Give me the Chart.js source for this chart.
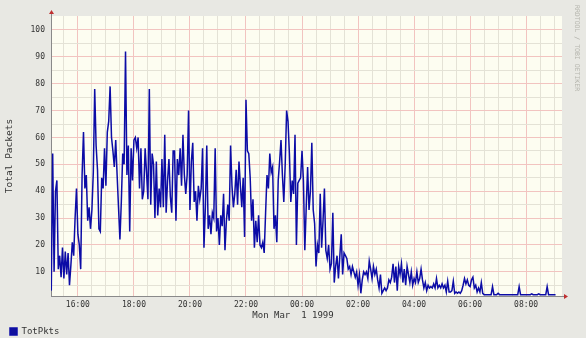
<!DOCTYPE html>
<html>
<head>
<meta charset="utf-8">
<script src="https://cdn.jsdelivr.net/npm/chart.js@4"></script>
<style>
html, body { margin: 0; padding: 0; background: #e8e8e3; }
#wrap { width: 586px; height: 338px; }
</style>
</head>
<body>
<div id="wrap"><canvas id="grafico" width="586" height="338"></canvas></div>
<script>
// Muestras de TotPkts, una cada 3 minutos desde las 15:03
const startMin = 3;
const stepMin = 3;
const totPkts = [
  3, 54, 10, 40, 44, 11, 16, 8, 19, 7.5,
  17.5, 9, 17, 5, 12.5, 21, 16, 30, 41, 24,
  20, 11, 46, 62, 41, 46, 29, 34, 26, 33,
  47, 78, 57, 48, 26, 25, 45, 41, 56, 42,
  62, 66, 79, 60, 55, 49, 59, 46, 34, 22,
  36, 54, 50, 92, 46, 57, 25, 56, 44, 59,
  60, 56, 60, 41, 56, 37, 40, 56, 47, 37,
  78, 35, 54, 50, 30, 51, 31, 41, 34, 52,
  34, 61, 32, 44, 52, 38, 32, 55, 55, 29,
  52, 46, 56, 42, 61, 46, 39, 46, 70, 33,
  51, 58, 36, 40, 29, 42, 37, 41, 56, 19,
  34, 57, 26, 31, 24, 32, 30, 56, 25,
  30, 20, 31, 27, 39, 18, 29, 35, 29, 57, 42,
  34, 39, 48, 35, 51, 42, 34, 45, 23, 74,
  55, 54, 45, 29, 37, 19, 29, 21, 31, 20,
  19, 21, 17, 32, 46, 41, 54, 47, 49, 26,
  31, 21, 44, 51, 59, 46, 36, 50, 70, 66,
  54, 36, 44, 39, 61, 20, 43, 44, 45,
  55, 44, 18, 34, 49, 33, 40, 58, 33, 28, 12,
  20, 17, 39, 19, 29, 41, 18, 15, 20, 11,
  13, 32, 6, 12, 16, 7.5, 16, 24, 9, 17,
  16, 15, 11, 12, 9, 12, 10, 8, 10, 5,
  9, 2, 7, 10, 9, 10, 7.5, 14, 11, 7.5,
  12, 9, 11, 7, 4, 9, 2,
  3, 4, 3, 4, 7, 6, 8, 13, 6, 12,
  3, 12, 9, 13, 6, 11, 5, 12, 9, 6,
  10, 5, 7.5, 6, 10, 6, 7.5, 11, 7, 4,
  6, 3, 5, 4, 4.5, 4, 5.5, 4, 7.5, 4,
  5, 4, 5.5, 4, 5, 2.5, 6.5, 2.5, 2.5, 3,
  6.5, 2, 2.5, 2, 2.5, 2, 3, 5, 7.5, 5.5,
  7, 5, 4.5, 7, 8, 4, 5, 2.5, 4, 2.5, 6, 2,
  1.5, 1.5, 1.5, 1.5, 1.5, 1.5, 4.5, 1.5, 1.5, 1.5,
  2, 1.5, 1.5, 1.5, 1.5, 1.5, 1.5, 1.5, 1.5, 1.5,
  1.5, 1.5, 1.5, 1.5, 1.5, 4.5, 1.5, 1.5, 1.5, 1.5,
  1.5, 1.5, 1.5, 1.5, 1.8, 1.5, 1.5, 1.5, 1.5, 1.8,
  1.5, 1.5, 1.5, 1.5, 1.5, 4.5, 1.5, 1.5, 1.5, 1.5,
  1.5, 1.5
];

// Etiquetas del eje x (cada 2 horas, desde las 16:00)
const horas = ["16:00", "18:00", "20:00", "22:00", "00:00", "02:00", "04:00", "06:00", "08:00"];
// Etiquetas del eje y
const valoresY = [10, 20, 30, 40, 50, 60, 70, 80, 90, 100];

const xMin = 2.4, xMax = 1096.8;   // minutos desde las 15:00
const yMin = 1, yMax = 105.2;

const fondoRrd = {
  id: "fondoRrd",
  beforeDraw(chart) {
    const { ctx, chartArea: a } = chart;
    ctx.save();
    ctx.fillStyle = "#e8e8e3";
    ctx.fillRect(0, 0, chart.width, chart.height);
    ctx.fillStyle = "#fdfdf1";
    ctx.fillRect(a.left, a.top, a.right - a.left, a.bottom - a.top);
    ctx.restore();
  },
  afterDraw(chart) {
    const { ctx, chartArea: a } = chart;
    ctx.save();
    // prolongacion de los ejes y flechas rojas
    ctx.strokeStyle = "#8a8a8a";
    ctx.lineWidth = 1;
    ctx.beginPath();
    ctx.moveTo(a.left + 0.5, a.top);
    ctx.lineTo(a.left + 0.5, a.top - 3);
    ctx.moveTo(a.right, a.bottom + 0.5);
    ctx.lineTo(a.right + 3, a.bottom + 0.5);
    ctx.stroke();
    ctx.fillStyle = "#c03030";
    ctx.beginPath();
    ctx.moveTo(a.left + 0.5, a.top - 6);
    ctx.lineTo(a.left - 2, a.top - 2);
    ctx.lineTo(a.left + 3, a.top - 2);
    ctx.closePath();
    ctx.fill();
    ctx.beginPath();
    ctx.moveTo(a.right + 6, a.bottom + 0.5);
    ctx.lineTo(a.right + 2, a.bottom - 2);
    ctx.lineTo(a.right + 2, a.bottom + 3);
    ctx.closePath();
    ctx.fill();
    // titulo del eje x, centrado en la imagen como en rrdtool
    ctx.fillStyle = "#333";
    ctx.font = "9px 'DejaVu Sans Mono'";
    ctx.textAlign = "center";
    ctx.textBaseline = "middle";
    ctx.fillText("Mon Mar  1 1999", chart.width / 2, 316);
    // marca de agua vertical
    ctx.translate(577, 5);
    ctx.rotate(Math.PI / 2);
    ctx.fillStyle = "#b5b5ad";
    ctx.font = "6.5px 'DejaVu Sans Mono'";
    ctx.textAlign = "left";
    ctx.fillText("RRDTOOL / TOBI OETIKER", 0, 0);
    ctx.restore();
  },
};

const xTicks = [];
for (let m = 30; m <= 1080; m += 30) xTicks.push({ value: m });
const yTicks = [];
for (let v = 5; v <= 100; v += 5) yTicks.push({ value: v });

const ctx = document.getElementById("grafico").getContext("2d");
new Chart(ctx, {
  type: "line",
  data: {
    datasets: [
      {
        label: "TotPkts",
        data: totPkts.map((v, i) => ({ x: startMin + i * stepMin, y: v })),
        borderColor: "#0c0ca6",
        backgroundColor: "#10109c",
        borderWidth: 1.5,
        pointRadius: 0,
        tension: 0,
        fill: false,
      },
    ],
  },
  options: {
    responsive: false,
    animation: false,
    layout: { padding: { left: 0, top: 16, right: 24, bottom: -8 } },
    plugins: {
      legend: {
        position: "bottom",
        align: "start",
        labels: {
          boxWidth: 7,
          boxHeight: 7,
          padding: 10,
          color: "#333",
          font: { family: "'DejaVu Sans Mono'", size: 9 },
        },
      },
      tooltip: { enabled: false },
    },
    scales: {
      x: {
        type: "linear",
        min: xMin,
        max: xMax,
        afterBuildTicks: (s) => { s.ticks = xTicks.slice(); },
        afterFit: (s) => { s.height = 21; },
        grid: {
          drawTicks: false,
          color: (c) => (c.tick && c.tick.value % 120 === 60 ? "#f2c4c0" : "#e4e2d6"),
        },
        border: { color: "#8a8a8a" },
        ticks: {
          autoSkip: false,
          maxRotation: 0,
          padding: 4,
          color: "#333",
          font: { family: "'DejaVu Sans Mono'", size: 8 },
          callback: (v) => (v % 120 === 60 ? horas[(v - 60) / 120] : ""),
        },
      },
      y: {
        min: yMin,
        max: yMax,
        afterBuildTicks: (s) => { s.ticks = yTicks.slice(); },
        afterFit: (s) => { s.width = 51; },
        grid: {
          drawTicks: false,
          color: (c) => (c.tick && c.tick.value % 10 === 0 ? "#f2c4c0" : "#e4e2d6"),
        },
        border: { color: "#8a8a8a" },
        title: {
          display: true,
          text: "Total Packets",
          color: "#333",
          font: { family: "'DejaVu Sans Mono'", size: 9.5 },
          padding: { top: 4, bottom: 0 },
        },
        ticks: {
          padding: 6,
          color: "#333",
          font: { family: "'DejaVu Sans Mono'", size: 8 },
          callback: (v) => (valoresY.includes(v) ? String(v) : ""),
        },
      },
    },
  },
  plugins: [fondoRrd],
});
</script>
</body>
</html>
